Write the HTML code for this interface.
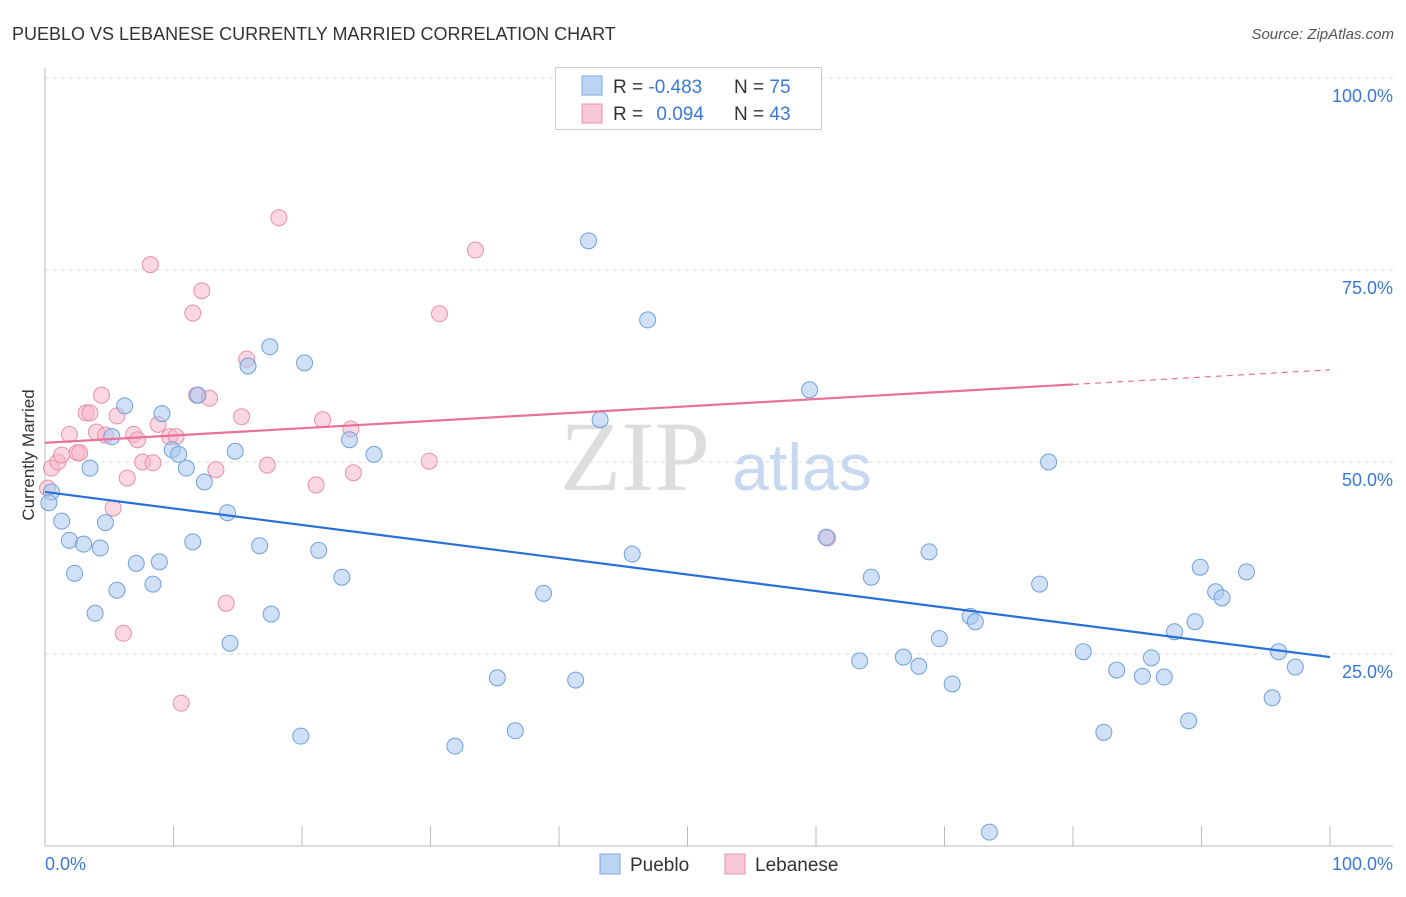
<!DOCTYPE html>
<html><head><meta charset="utf-8"><style>
body{margin:0;background:#fff;font-family:"Liberation Sans",sans-serif;}
svg text{font-family:"Liberation Sans",sans-serif;}
</style></head><body>
<svg id="chart" width="1406" height="892">
<text x="12" y="40" font-size="18" fill="#333">PUEBLO VS LEBANESE CURRENTLY MARRIED CORRELATION CHART</text>
<text x="1394" y="39" font-size="15" fill="#555" font-style="italic" text-anchor="end">Source: ZipAtlas.com</text>
<g id="grid"></g>
<text x="635" y="490" font-size="100" fill="#ddd" style="font-family:'Liberation Serif',serif" text-anchor="middle">ZIP</text>
<text x="802" y="490" font-size="66" fill="#c8d8f0" text-anchor="middle">atlas</text>
<g id="marks"></g>
<text x="34" y="455" font-size="17" fill="#333" text-anchor="middle" transform="rotate(-90 34 455)">Currently Married</text>
<text x="45" y="870" font-size="18" fill="#3a78d8">0.0%</text>
<text x="1393" y="870" font-size="18" fill="#3a78d8" text-anchor="end">100.0%</text>
<g>
<rect x="555.5" y="67.5" width="266" height="62" fill="#fff" stroke="#ccc"/>
<rect x="582" y="76" width="20" height="19" fill="#bcd4f4" stroke="#7aaae0"/>
<rect x="582" y="104" width="20" height="19" fill="#f9c8d6" stroke="#e890a8"/>
<text x="613" y="93" font-size="19" fill="#333">R = <tspan fill="#3a78d8">-0.483</tspan></text>
<text x="734" y="93" font-size="19" fill="#333">N = <tspan fill="#3a78d8">75</tspan></text>
<text x="613" y="120" font-size="19" fill="#333">R = <tspan fill="#3a78d8" dx="8">0.094</tspan></text>
<text x="734" y="120" font-size="19" fill="#333">N = <tspan fill="#3a78d8">43</tspan></text>
</g>
<g>
<rect x="600" y="854" width="20" height="20" fill="#bcd4f4" stroke="#7aaae0"/>
<text x="630" y="871" font-size="19" fill="#333">Pueblo</text>
<rect x="725" y="854" width="20" height="20" fill="#f9c8d6" stroke="#e890a8"/>
<text x="755" y="871" font-size="19" fill="#333">Lebanese</text>
</g>
</svg>
<script>
const yTicks=[25,50,75,100];
const yTickLabels=["25.0%","50.0%","75.0%","100.0%"];
const xTicks=[0,10,20,30,40,50,60,70,80,90,100];
const puebloX=[0.5,0.3,1.3,1.9,2.3,3.0,3.5,3.9,4.3,4.7,5.2,5.6,6.2,7.1,8.4,8.9,9.1,9.9,10.4,11.0,11.5,11.9,12.4,14.2,14.4,14.8,15.8,16.7,17.5,17.6,19.9,20.2,21.3,23.1,23.7,25.6,31.9,35.2,36.6,38.8,41.3,42.3,43.2,45.7,46.9,59.5,60.8,63.4,64.3,66.8,68.0,68.8,69.6,70.6,72.0,72.4,73.5,77.4,78.1,80.8,82.4,83.4,85.4,86.1,87.1,87.9,89.0,89.5,89.9,91.1,91.6,93.5,95.5,96.0,97.3];
const puebloY=[46.1,44.7,42.3,39.8,35.5,39.3,49.2,30.3,38.8,42.1,53.3,33.3,57.3,36.8,34.1,37.0,56.3,51.6,51.0,49.2,39.6,58.7,47.4,43.4,26.4,51.4,62.5,39.1,65.0,30.2,14.3,62.9,38.5,35.0,52.9,51.0,13.0,21.9,15.0,32.9,21.6,78.8,55.5,38.0,68.5,59.4,40.2,24.1,35.0,24.6,23.4,38.3,27.0,21.1,29.9,29.2,1.8,34.1,50.0,25.3,14.8,22.9,22.1,24.5,22.0,27.9,16.3,29.2,36.3,33.1,32.3,35.7,19.3,25.3,23.3];
const lebX=[0.2,0.5,1.0,1.3,1.9,2.5,2.7,3.2,3.5,4.0,4.4,4.7,5.3,5.6,6.1,6.4,6.9,7.2,7.6,8.2,8.4,8.8,9.7,10.2,10.6,11.5,11.8,12.2,12.8,13.3,14.1,15.3,15.7,17.3,18.2,21.1,21.6,23.8,24.0,29.9,30.7,33.5,60.9];
const lebY=[46.6,49.2,50.0,50.9,53.6,51.2,51.2,56.4,56.4,53.9,58.7,53.5,44.0,56.0,27.7,47.9,53.6,52.9,50.0,75.7,49.9,54.9,53.3,53.3,18.6,69.4,58.7,72.3,58.3,49.0,31.6,55.9,63.4,49.6,81.8,47.0,55.5,54.3,48.6,50.1,69.3,77.6,40.1];
const puebloTrend=[46.1,24.6];
const lebTrend=[52.5,62.0];
const lebSolidEnd=80;

const NS="http://www.w3.org/2000/svg";
const X0=45,X1=1330,Y0=846,Y100=78;
const sx=v=>X0+(X1-X0)*v/100;
const sy=v=>Y0-(Y0-Y100)*v/100;
function mk(tag,attrs,parent){const e=document.createElementNS(NS,tag);for(const k in attrs)e.setAttribute(k,attrs[k]);parent.appendChild(e);return e;}
const grid=document.getElementById('grid'),marks=document.getElementById('marks');
yTicks.forEach((t,i)=>{
 const l=mk('line',{x1:45,x2:1393,y1:sy(t),y2:sy(t),stroke:'#ddd','stroke-dasharray':'4,4'},grid);
 
 
 const tx=mk('text',{x:1393,y:sy(t)+24,'font-size':18,fill:'#3a78d8','text-anchor':'end'},grid);
 tx.textContent=yTickLabels[i];
 
 
});
const ax=mk('line',{x1:45,x2:1393,y1:Y0,y2:Y0,stroke:'#bbb'},grid);


const ay=mk('line',{x1:45,x2:45,y1:68,y2:Y0,stroke:'#bbb'},grid);


xTicks.forEach(t=>{
 const l=mk('line',{x1:sx(t),x2:sx(t),y1:826,y2:Y0,stroke:'#bbb'},grid);
 
 
});
function pts(xs,ys,fill,stroke,name){
 xs.forEach((x,i)=>{
  const c=mk('circle',{cx:sx(x),cy:sy(ys[i]),r:8,fill:fill,'fill-opacity':0.55,stroke:stroke,'stroke-width':1},marks);
  
  
 });
}
pts(lebX,lebY,'#f7b6ca','#e890a8','lebanese-point');
pts(puebloX,puebloY,'#a9c8f0','#6fa0dc','pueblo-point');
const bl=mk('line',{x1:sx(0),y1:sy(puebloTrend[0]),x2:sx(100),y2:sy(puebloTrend[1]),stroke:'#2a6fd6','stroke-width':2.2},marks);


const lt=v=>lebTrend[0]+(lebTrend[1]-lebTrend[0])*v/100;
const pl=mk('line',{x1:sx(0),y1:sy(lt(0)),x2:sx(lebSolidEnd),y2:sy(lt(lebSolidEnd)),stroke:'#e8709a','stroke-width':2.2},marks);


const pd=mk('line',{x1:sx(lebSolidEnd),y1:sy(lt(lebSolidEnd)),x2:sx(100),y2:sy(lt(100)),stroke:'#e8709a','stroke-width':1.2,'stroke-dasharray':'6,5'},marks);


</script>
</body></html>
